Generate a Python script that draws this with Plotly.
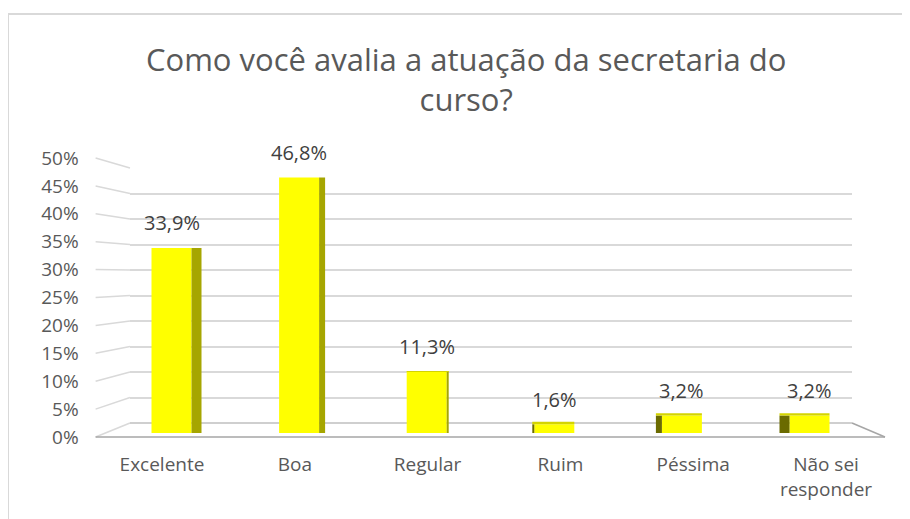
import plotly.graph_objects as go

# ---- data ----
categories = ["Excelente", "Boa", "Regular", "Ruim", "Péssima", "Não sei responder"]
category_labels = ["Excelente", "Boa", "Regular", "Ruim", "Péssima", "Não sei<br>responder"]
values = [33.9, 46.8, 11.3, 1.6, 3.2, 3.2]
tick_values = [0, 5, 10, 15, 20, 25, 30, 35, 40, 45, 50]
tick_labels = ["0%", "5%", "10%", "15%", "20%", "25%", "30%", "35%", "40%", "45%", "50%"]
title_text = "Como você avalia a atuação da secretaria do<br>curso?"

# ---- geometry helpers (screen pixel -> paper; page body adds an 8px offset) ----
W, H = 910, 519
OFF = 8
def px(x):
    return (x - OFF) / W
def py(y):
    return 1 - (y - OFF) / H

FONT = "Open Sans"
GRID = "#d9d9d9"

back_x = [px(130), px(852)]
back_y = [py(423), py(168)]
bar_x = [px(107.7), px(873.3)]
bar_y = [py(433), py(160)]
front_x = [px(95.6), px(892.4)]
front_y = [py(437), py(158)]
ymax = 50

def map_y(v, dom):
    return dom[0] + (dom[1] - dom[0]) * v / ymax

n = len(categories)
cat_px = (bar_x[1] - bar_x[0]) * W / n
px_per_unit = (bar_y[1] - bar_y[0]) * H / ymax
front_w = 40 / cat_px
half = front_w / 2
vp = (n - 1) / 2
side_w = [abs(i - vp) * 4 / cat_px for i in range(n)]
side_off = [half if i < vp else -half - side_w[i] for i in range(n)]
side_col = ["#A6A600" if i < vp else "#6B6B00" for i in range(n)]
# top faces (visible only for bars below the eye level)
eye = 12.0
top_h = [max(0.0, (eye - v)) * 0.25 / px_per_unit for v in values]
top_w = [front_w + s for s in side_w]
top_off = [-half if i < vp else -half - side_w[i] for i in range(n)]

fig = go.Figure()
fig.add_trace(go.Scatter(x=[0], y=[0], mode="markers", marker=dict(opacity=0),
                         hoverinfo="skip", showlegend=False, xaxis="x", yaxis="y"))
fig.add_trace(go.Bar(x=categories, y=values, width=front_w,
                     marker=dict(color="#FFFF00", line=dict(width=0)),
                     hoverinfo="skip", showlegend=False, xaxis="x2", yaxis="y2"))
fig.add_trace(go.Bar(x=categories, y=values, width=side_w, offset=side_off,
                     marker=dict(color=side_col, line=dict(width=0)),
                     hoverinfo="skip", showlegend=False, xaxis="x2", yaxis="y2"))
fig.add_trace(go.Bar(x=categories, y=top_h, base=values, width=top_w, offset=top_off,
                     marker=dict(color="#D4D400", line=dict(width=0)),
                     hoverinfo="skip", showlegend=False, xaxis="x2", yaxis="y2"))
fig.add_trace(go.Scatter(x=[0], y=[0], mode="markers", marker=dict(opacity=0),
                         hoverinfo="skip", showlegend=False, xaxis="x3", yaxis="y3"))

fig.update_layout(
    width=W, height=H, autosize=False,
    margin=dict(l=0, r=0, t=0, b=0, pad=0, autoexpand=False),
    showlegend=False,
    paper_bgcolor="white",
    plot_bgcolor="rgba(0,0,0,0)",
    barmode="overlay",
    xaxis=dict(domain=back_x, range=[0, 1], showgrid=False, zeroline=False, automargin=False,
               showticklabels=False, showline=False, anchor="y"),
    yaxis=dict(domain=back_y, range=[0, ymax], tickvals=tick_values, showticklabels=False,
               showgrid=True, gridcolor=GRID, gridwidth=1.5, zeroline=False, automargin=False,
               showline=False, anchor="x"),
    xaxis2=dict(domain=bar_x, range=[-0.5, n - 0.5], type="category", showgrid=False,
                zeroline=False, showticklabels=False, showline=False, anchor="y2", automargin=False),
    yaxis2=dict(domain=bar_y, range=[0, ymax], showgrid=False, zeroline=False,
                showticklabels=False, showline=False, anchor="x2", automargin=False),
    xaxis3=dict(domain=front_x, range=[-0.5, n - 0.5], tickvals=list(range(n)),
                ticktext=category_labels, showgrid=False, zeroline=False, showline=False,
                ticks="", ticklabelstandoff=14, anchor="y3", automargin=False,
                tickfont=dict(family=FONT, size=19, color="#595959")),
    yaxis3=dict(domain=front_y, range=[0, ymax], tickvals=tick_values, ticktext=tick_labels,
                showgrid=False, zeroline=False, showline=False, ticks="", automargin=False,
                ticklabelstandoff=16, anchor="x3",
                tickfont=dict(family=FONT, size=19, color="#595959")),
)

shapes = []
# outer chart frame
shapes.append(dict(type="rect", xref="paper", yref="paper", x0=px(8), x1=px(940),
                   y0=py(560), y1=py(14), line=dict(color="#d9d9d9", width=2),
                   fillcolor="rgba(0,0,0,0)", layer="below"))
# left wall lines
for v in tick_values:
    shapes.append(dict(type="line", xref="paper", yref="paper",
                       x0=front_x[0], y0=map_y(v, front_y),
                       x1=back_x[0], y1=map_y(v, back_y),
                       line=dict(color=GRID, width=1.5), layer="below"))
# floor
shapes.append(dict(type="line", xref="paper", yref="paper",
                   x0=front_x[0], y0=map_y(0, front_y), x1=px(885), y1=map_y(0, front_y),
                   line=dict(color="#a6a6a6", width=1.5), layer="below"))
shapes.append(dict(type="line", xref="paper", yref="paper",
                   x0=back_x[1], y0=map_y(0, back_y), x1=px(885), y1=map_y(0, front_y),
                   line=dict(color="#a6a6a6", width=1.5), layer="below"))
shapes.append(dict(type="line", xref="paper", yref="paper",
                   x0=back_x[0], y0=map_y(0, back_y), x1=back_x[1], y1=map_y(0, back_y),
                   line=dict(color="#bfbfbf", width=1.5), layer="below"))
fig.update_layout(shapes=shapes)

annotations = []
for c, v in zip(categories, values):
    annotations.append(dict(x=c, y=v, xref="x2", yref="y2", showarrow=False,
                            text=f"{v:.1f}".replace(".", ",") + "%",
                            yanchor="middle", yshift=25,
                            font=dict(family=FONT, size=20, color="#404040")))
annotations.append(dict(x=px(466), y=py(79), xref="paper", yref="paper", showarrow=False,
                        text=title_text, xanchor="center", yanchor="middle",
                        font=dict(family=FONT, size=31, color="#595959")))
fig.update_layout(annotations=annotations)

fig.write_html("out.html", config={"responsive": False})
